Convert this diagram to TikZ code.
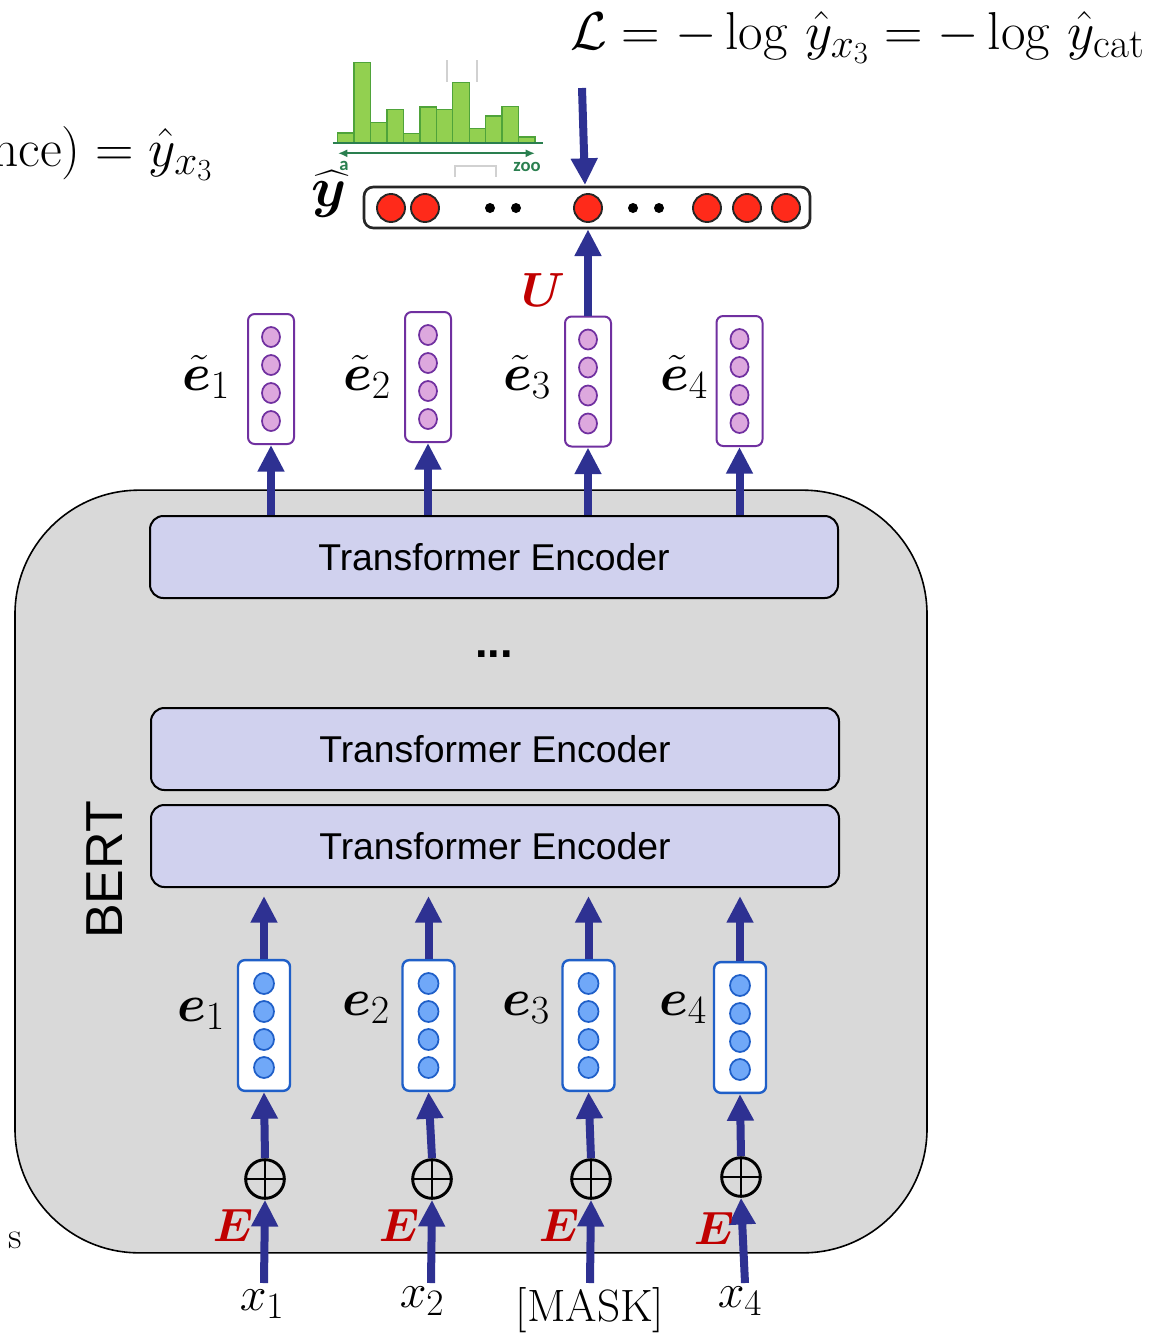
\RequirePackage{fix-cm}
\documentclass[tikz,border=0pt]{standalone}
\usepackage{amsmath}
\usepackage{bm}
\usepackage{fontspec}
\usetikzlibrary{arrows.meta}
\newfontfamily\arialfont{Liberation Sans}
\newfontfamily\calibfont{Carlito}

% larger sub/superscripts for the big display labels
\DeclareMathSizes{39}{39}{30}{22}
\DeclareMathSizes{40}{40}{31}{23}
\DeclareMathSizes{36}{36}{28}{20}

\definecolor{flowblue}{HTML}{2E3192}
\definecolor{bertgray}{HTML}{D9D9D9}
\definecolor{encfill}{HTML}{D0D1EE}
\definecolor{tpurple}{HTML}{7030A0}
\definecolor{tplum}{HTML}{DDA8DE}
\definecolor{eblue}{HTML}{1F5FC8}
\definecolor{ecirc}{HTML}{70A8F8}
\definecolor{labred}{HTML}{C00000}
\definecolor{dotred}{HTML}{FF2A1A}
\definecolor{barfill}{HTML}{92D050}
\definecolor{barline}{HTML}{4FA33A}
\definecolor{axisgreen}{HTML}{2A7F4F}

\tikzset{
  flow/.style={draw=flowblue, line width=6pt, -{Triangle[width=19pt,length=20pt]}},
  bertbox/.style={draw=black, line width=1.2pt, fill=bertgray, rounded corners=93pt,
    minimum width=684pt, minimum height=572pt, inner sep=0pt},
  encbox/.style={draw=black, line width=1.5pt, fill=encfill, rounded corners=10pt,
    minimum width=516pt, minimum height=61.5pt, inner sep=0pt,
    font=\arialfont\fontsize{28}{34}\selectfont},
  tvec/.style={draw=tpurple, line width=1.5pt, fill=white, rounded corners=5pt,
    minimum width=34.5pt, minimum height=97.5pt, inner sep=0pt},
  evec/.style={draw=eblue, line width=1.8pt, fill=white, rounded corners=5pt,
    minimum width=39pt, minimum height=98pt, inner sep=0pt},
  tcirc/.style={draw=tpurple, line width=1.3pt, fill=tplum},
  ecirc/.style={draw=eblue, line width=1.3pt, fill=ecirc},
  oplus/.style={circle, draw=black, line width=2.2pt, minimum size=29pt, inner sep=0pt,
    path picture={\draw[line width=2pt] (path picture bounding box.north) -- (path picture bounding box.south)
      (path picture bounding box.west) -- (path picture bounding box.east);}},
  rdot/.style={circle, draw=black!85, line width=1.4pt, fill=dotred, minimum size=21pt, inner sep=0pt},
  ybox/.style={draw=black!85, line width=2pt, fill=white, rounded corners=7pt,
    minimum width=334.5pt, minimum height=30.75pt, inner sep=0pt},
  veclab/.style={font=\fontsize{39}{44}\selectfont},
  redlab/.style={text=labred, font=\fontsize{35}{40}\selectfont},
  inlab/.style={font=\fontsize{36}{40}\selectfont},
  bar/.style={draw=barline, line width=1pt, fill=barfill},
  faint/.style={draw=black!18, line width=0.8pt},
  vocab/.style={text=axisgreen, font=\calibfont\bfseries\fontsize{14}{16}\selectfont},
}

\begin{document}
\begin{tikzpicture}[x=0.75pt, y=-0.75pt]
\useasboundingbox (0,0) rectangle (1175,1335);

% ---- BERT container ----
\node[bertbox] (bert) at (471,871.5) {};
\node[rotate=90, font=\arialfont\fontsize{39}{47}\selectfont] (bertname) at (105,870) {BERT};

% ---- encoder stack ----
\node[encbox] (enc3) at (494,557) {Transformer Encoder};
\node[font=\arialfont\bfseries\fontsize{34}{40}\selectfont] (more) at (494,654) {...};
\node[encbox] (enc2) at (495,749) {Transformer Encoder};
\node[encbox] (enc1) at (495,846) {Transformer Encoder};

% ---- contextual output vectors ----
\foreach \n/\px/\py in {t1/271/379, t2/428/377, t3/588/381.5, t4/739.5/381} {
  \node[tvec] (\n) at (\px,\py) {};
  \foreach \d in {-42,-14,14,42}
    \draw[tcirc] (\px,\py+\d) circle[x radius=9, y radius=10];
}
\node[veclab] (lt1) at (206,377) {$\tilde{\bm{e}}_1$};
\node[veclab] (lt2) at (367,377) {$\tilde{\bm{e}}_2$};
\node[veclab] (lt3) at (527,377) {$\tilde{\bm{e}}_3$};
\node[veclab] (lt4) at (684,377) {$\tilde{\bm{e}}_4$};

\foreach \n in {t1,t2,t3,t4}
  \draw[flow] (enc3.north -| \n) -- (\n.south);

% ---- input embedding vectors ----
\foreach \n/\px/\py in {e1/264/1025.5, e2/428.5/1025.5, e3/588.5/1025.5, e4/740/1027.5} {
  \node[evec] (\n) at (\px,\py) {};
  \foreach \d in {-42,-14,14,42}
    \draw[ecirc] (\px,\py+\d) circle[x radius=10, y radius=10.5];
}
\node[veclab] (le1) at (201,1014) {$\bm{e}_1$};
\node[veclab] (le2) at (366,1008) {$\bm{e}_2$};
\node[veclab] (le3) at (526,1008) {$\bm{e}_3$};
\node[veclab] (le4) at (683,1008) {$\bm{e}_4$};

\foreach \n in {e1,e2,e3,e4}
  \draw[flow, shorten >=6pt] (\n.north) -- (\n.north |- enc1.south);

% ---- embedding sums ----
\node[oplus] (p1) at (265,1179) {};
\node[oplus] (p2) at (432,1179) {};
\node[oplus] (p3) at (591,1179) {};
\node[oplus] (p4) at (741,1177) {};
\foreach \i in {1,2,3,4}
  \draw[flow] (p\i.north) -- (e\i.south);

% ---- input tokens ----
\coordinate (s1) at (264,1283);
\coordinate (s2) at (431,1283);
\coordinate (s3) at (590,1283);
\coordinate (s4) at (745,1283);
\foreach \i in {1,2,3,4}
  \draw[flow] (s\i) -- (p\i.south);

\node[redlab] (E1) at (233,1225) {$\bm{E}$};
\node[redlab] (E2) at (399,1225) {$\bm{E}$};
\node[redlab] (E3) at (559,1225) {$\bm{E}$};
\node[redlab] (E4) at (714,1228) {$\bm{E}$};

\node[inlab] (x1) at (262,1304) {$x_1$};
\node[inlab] (x2) at (422,1301) {$x_2$};
\node[font=\fontsize{34}{38}\selectfont] (x3) at (590,1310) {[MASK]};
\node[inlab] (x4) at (740,1301) {$x_4$};

% ---- output distribution ----
\node[ybox] (yvec) at (587,207.5) {};
\foreach \n/\px in {r1/391, r2/425, r3/588, r4/707, r5/747, r6/786}
  \node[rdot] (\n) at (\px,208) {};
\foreach \px in {490,516,633,659}
  \fill[black] (\px,208) circle[radius=5];
\node[font=\fontsize{42}{46}\selectfont] (yhat) at (329,194) {$\widehat{\bm{y}}$};

\draw[flow] (t3.north) -- (yvec.south -| t3);
\node[text=labred, font=\fontsize{36}{40}\selectfont] (U) at (543,290) {$\bm{U}$};

\coordinate (lossfrom) at (582,88);
\coordinate (lossto) at (585,185);
\draw[flow] (lossfrom) -- (lossto);

% ---- histogram over the vocabulary ----
\foreach \k/\top in {0/133, 1/62.3, 2/122.3, 3/109.7, 4/133.3, 5/107, 6/109.7, 7/82.3, 8/128.3, 9/116, 10/106.3, 11/137}
  \draw[bar] (337.7+16.44*\k,142.7) rectangle (337.7+16.44*\k+16.44,\top);
\draw[axisgreen, line width=1.6pt] (332.7,142.7) -- (543.3,142.7);
\draw[axisgreen, line width=1.4pt, {Latex[length=7pt,width=6pt]}-{Latex[length=7pt,width=6pt]}] (338,153.3) -- (535,153.3);
\node[vocab] (va) at (344,166) {a};
\node[vocab] (vz) at (527,167) {zoo};
\draw[faint] (447,60) -- (447,82) (477,60) -- (477,82);
\draw[faint] (455,177) -- (455,166) -- (496,166) -- (496,177);

% ---- loss and probability ----
\node[anchor=base west, inner sep=0pt, font=\fontsize{40}{48}\selectfont] (loss) at (570,49)
  {$\mathcal{L} = -\log\mskip3mu \hat{y}_{x_3} = -\log\mskip3mu \hat{y}_{\mathrm{cat}}$};
\begin{scope}
  \clip (0,0) rectangle (1175,1335);
  \node[anchor=base east, inner sep=0pt, font=\fontsize{40}{48}\selectfont] (prob) at (213,166)
    {$\mathrm{nce}) = \hat{y}_{x_3}$};
\end{scope}

\node[font=\fontsize{28}{30}\selectfont] (frag) at (15,1240) {s};
\end{tikzpicture}
\end{document}
